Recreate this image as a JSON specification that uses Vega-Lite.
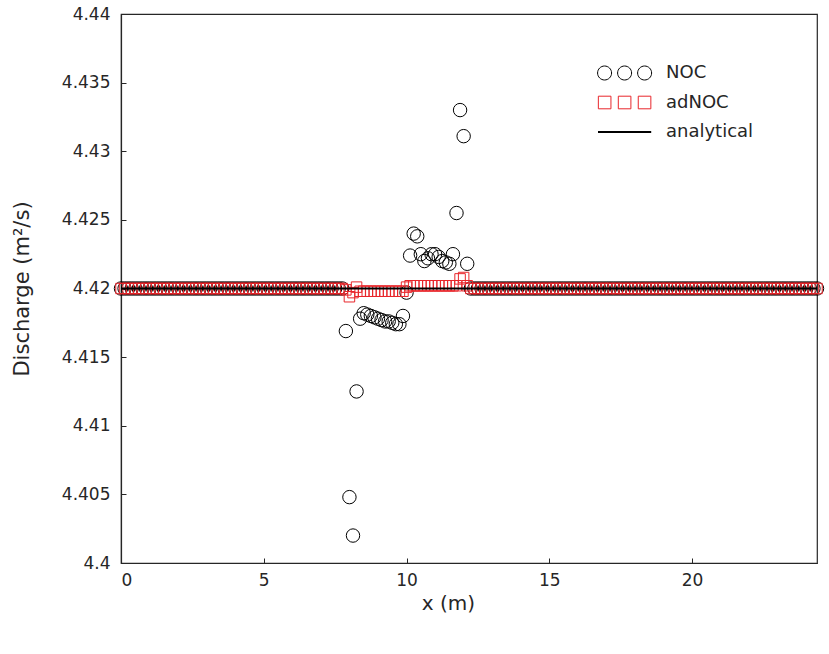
{
  "$schema": "https://vega.github.io/schema/vega-lite/v6.json",
  "width": 696,
  "height": 549,
  "autosize": "none",
  "padding": {"left": 121, "top": 14, "right": 12, "bottom": 91},
  "background": "white",
  "config": {
    "view": {"stroke": "#262626", "strokeWidth": 1.2},
    "font": "DejaVu Sans",
    "axis": {"grid": false, "domainColor": "#262626", "domainWidth": 1.2, "tickColor": "#262626", "tickWidth": 1, "tickSize": -5, "labelColor": "#262626", "labelFontSize": 17, "titleColor": "#262626", "titleFontSize": 20, "titleFontWeight": "normal"},
    "legend": {"title": null, "orient": "none", "padding": 0, "symbolSize": 196, "labelFontSize": 18, "labelColor": "#262626", "labelOffset": 31, "symbolStrokeWidth": 1, "symbolOpacity": 1}
  },
  "resolve": {"scale": {"color": "independent"}, "legend": {"color": "independent"}},
  "datasets": {
    "sol": [
      {"x":0,"n":4.42,"a":4.42},{"x":0.125,"n":4.42,"a":4.42},{"x":0.25,"n":4.42,"a":4.42},{"x":0.375,"n":4.42,"a":4.42},{"x":0.5,"n":4.42,"a":4.42},{"x":0.625,"n":4.42,"a":4.42},{"x":0.75,"n":4.42,"a":4.42},{"x":0.875,"n":4.42,"a":4.42},
      {"x":1,"n":4.42,"a":4.42},{"x":1.125,"n":4.42,"a":4.42},{"x":1.25,"n":4.42,"a":4.42},{"x":1.375,"n":4.42,"a":4.42},{"x":1.5,"n":4.42,"a":4.42},{"x":1.625,"n":4.42,"a":4.42},{"x":1.75,"n":4.42,"a":4.42},{"x":1.875,"n":4.42,"a":4.42},
      {"x":2,"n":4.42,"a":4.42},{"x":2.125,"n":4.42,"a":4.42},{"x":2.25,"n":4.42,"a":4.42},{"x":2.375,"n":4.42,"a":4.42},{"x":2.5,"n":4.42,"a":4.42},{"x":2.625,"n":4.42,"a":4.42},{"x":2.75,"n":4.42,"a":4.42},{"x":2.875,"n":4.42,"a":4.42},
      {"x":3,"n":4.42,"a":4.42},{"x":3.125,"n":4.42,"a":4.42},{"x":3.25,"n":4.42,"a":4.42},{"x":3.375,"n":4.42,"a":4.42},{"x":3.5,"n":4.42,"a":4.42},{"x":3.625,"n":4.42,"a":4.42},{"x":3.75,"n":4.42,"a":4.42},{"x":3.875,"n":4.42,"a":4.42},
      {"x":4,"n":4.42,"a":4.42},{"x":4.125,"n":4.42,"a":4.42},{"x":4.25,"n":4.42,"a":4.42},{"x":4.375,"n":4.42,"a":4.42},{"x":4.5,"n":4.42,"a":4.42},{"x":4.625,"n":4.42,"a":4.42},{"x":4.75,"n":4.42,"a":4.42},{"x":4.875,"n":4.42,"a":4.42},
      {"x":5,"n":4.42,"a":4.42},{"x":5.125,"n":4.42,"a":4.42},{"x":5.25,"n":4.42,"a":4.42},{"x":5.375,"n":4.42,"a":4.42},{"x":5.5,"n":4.42,"a":4.42},{"x":5.625,"n":4.42,"a":4.42},{"x":5.75,"n":4.42,"a":4.42},{"x":5.875,"n":4.42,"a":4.42},
      {"x":6,"n":4.42,"a":4.42},{"x":6.125,"n":4.42,"a":4.42},{"x":6.25,"n":4.42,"a":4.42},{"x":6.375,"n":4.42,"a":4.42},{"x":6.5,"n":4.42,"a":4.42},{"x":6.625,"n":4.42,"a":4.42},{"x":6.75,"n":4.42,"a":4.42},{"x":6.875,"n":4.42,"a":4.42},
      {"x":7,"n":4.42,"a":4.42},{"x":7.125,"n":4.42,"a":4.42},{"x":7.25,"n":4.42,"a":4.42},{"x":7.375,"n":4.42,"a":4.42},{"x":7.5,"n":4.42,"a":4.42},{"x":7.625,"n":4.42,"a":4.42},{"x":7.75,"n":4.42,"a":4.42},{"x":7.875,"n":4.4169,"a":4.4199},
      {"x":8,"n":4.4048,"a":4.4194},{"x":8.125,"n":4.402,"a":4.4197},{"x":8.25,"n":4.4125,"a":4.4201},{"x":8.375,"n":4.4178,"a":4.4198},{"x":8.5,"n":4.4182,"a":4.4198},{"x":8.625,"n":4.4181,"a":4.4198},{"x":8.75,"n":4.418,"a":4.4198},{"x":8.875,"n":4.4179,"a":4.4198},
      {"x":9,"n":4.4178,"a":4.4198},{"x":9.125,"n":4.4177,"a":4.4198},{"x":9.25,"n":4.4176,"a":4.4198},{"x":9.375,"n":4.4176,"a":4.4198},{"x":9.5,"n":4.4175,"a":4.4198},{"x":9.625,"n":4.4174,"a":4.4198},{"x":9.75,"n":4.4174,"a":4.4198},{"x":9.875,"n":4.418,"a":4.4198},
      {"x":10,"n":4.4197,"a":4.4201},{"x":10.125,"n":4.4224,"a":4.4202},{"x":10.25,"n":4.424,"a":4.4202},{"x":10.375,"n":4.4238,"a":4.4202},{"x":10.5,"n":4.4225,"a":4.4202},{"x":10.625,"n":4.422,"a":4.4202},{"x":10.75,"n":4.4222,"a":4.4202},{"x":10.875,"n":4.4225,"a":4.4202},
      {"x":11,"n":4.4225,"a":4.4202},{"x":11.125,"n":4.4223,"a":4.4202},{"x":11.25,"n":4.422,"a":4.4202},{"x":11.375,"n":4.4219,"a":4.4202},{"x":11.5,"n":4.4218,"a":4.4202},{"x":11.625,"n":4.4225,"a":4.4202},{"x":11.75,"n":4.4255,"a":4.4202},{"x":11.875,"n":4.433,"a":4.4207},
      {"x":12,"n":4.4311,"a":4.4208},{"x":12.125,"n":4.4218,"a":4.4202},{"x":12.25,"n":4.42,"a":4.42},{"x":12.375,"n":4.42,"a":4.42},{"x":12.5,"n":4.42,"a":4.42},{"x":12.625,"n":4.42,"a":4.42},{"x":12.75,"n":4.42,"a":4.42},{"x":12.875,"n":4.42,"a":4.42},
      {"x":13,"n":4.42,"a":4.42},{"x":13.125,"n":4.42,"a":4.42},{"x":13.25,"n":4.42,"a":4.42},{"x":13.375,"n":4.42,"a":4.42},{"x":13.5,"n":4.42,"a":4.42},{"x":13.625,"n":4.42,"a":4.42},{"x":13.75,"n":4.42,"a":4.42},{"x":13.875,"n":4.42,"a":4.42},
      {"x":14,"n":4.42,"a":4.42},{"x":14.125,"n":4.42,"a":4.42},{"x":14.25,"n":4.42,"a":4.42},{"x":14.375,"n":4.42,"a":4.42},{"x":14.5,"n":4.42,"a":4.42},{"x":14.625,"n":4.42,"a":4.42},{"x":14.75,"n":4.42,"a":4.42},{"x":14.875,"n":4.42,"a":4.42},
      {"x":15,"n":4.42,"a":4.42},{"x":15.125,"n":4.42,"a":4.42},{"x":15.25,"n":4.42,"a":4.42},{"x":15.375,"n":4.42,"a":4.42},{"x":15.5,"n":4.42,"a":4.42},{"x":15.625,"n":4.42,"a":4.42},{"x":15.75,"n":4.42,"a":4.42},{"x":15.875,"n":4.42,"a":4.42},
      {"x":16,"n":4.42,"a":4.42},{"x":16.125,"n":4.42,"a":4.42},{"x":16.25,"n":4.42,"a":4.42},{"x":16.375,"n":4.42,"a":4.42},{"x":16.5,"n":4.42,"a":4.42},{"x":16.625,"n":4.42,"a":4.42},{"x":16.75,"n":4.42,"a":4.42},{"x":16.875,"n":4.42,"a":4.42},
      {"x":17,"n":4.42,"a":4.42},{"x":17.125,"n":4.42,"a":4.42},{"x":17.25,"n":4.42,"a":4.42},{"x":17.375,"n":4.42,"a":4.42},{"x":17.5,"n":4.42,"a":4.42},{"x":17.625,"n":4.42,"a":4.42},{"x":17.75,"n":4.42,"a":4.42},{"x":17.875,"n":4.42,"a":4.42},
      {"x":18,"n":4.42,"a":4.42},{"x":18.125,"n":4.42,"a":4.42},{"x":18.25,"n":4.42,"a":4.42},{"x":18.375,"n":4.42,"a":4.42},{"x":18.5,"n":4.42,"a":4.42},{"x":18.625,"n":4.42,"a":4.42},{"x":18.75,"n":4.42,"a":4.42},{"x":18.875,"n":4.42,"a":4.42},
      {"x":19,"n":4.42,"a":4.42},{"x":19.125,"n":4.42,"a":4.42},{"x":19.25,"n":4.42,"a":4.42},{"x":19.375,"n":4.42,"a":4.42},{"x":19.5,"n":4.42,"a":4.42},{"x":19.625,"n":4.42,"a":4.42},{"x":19.75,"n":4.42,"a":4.42},{"x":19.875,"n":4.42,"a":4.42},
      {"x":20,"n":4.42,"a":4.42},{"x":20.125,"n":4.42,"a":4.42},{"x":20.25,"n":4.42,"a":4.42},{"x":20.375,"n":4.42,"a":4.42},{"x":20.5,"n":4.42,"a":4.42},{"x":20.625,"n":4.42,"a":4.42},{"x":20.75,"n":4.42,"a":4.42},{"x":20.875,"n":4.42,"a":4.42},
      {"x":21,"n":4.42,"a":4.42},{"x":21.125,"n":4.42,"a":4.42},{"x":21.25,"n":4.42,"a":4.42},{"x":21.375,"n":4.42,"a":4.42},{"x":21.5,"n":4.42,"a":4.42},{"x":21.625,"n":4.42,"a":4.42},{"x":21.75,"n":4.42,"a":4.42},{"x":21.875,"n":4.42,"a":4.42},
      {"x":22,"n":4.42,"a":4.42},{"x":22.125,"n":4.42,"a":4.42},{"x":22.25,"n":4.42,"a":4.42},{"x":22.375,"n":4.42,"a":4.42},{"x":22.5,"n":4.42,"a":4.42},{"x":22.625,"n":4.42,"a":4.42},{"x":22.75,"n":4.42,"a":4.42},{"x":22.875,"n":4.42,"a":4.42},
      {"x":23,"n":4.42,"a":4.42},{"x":23.125,"n":4.42,"a":4.42},{"x":23.25,"n":4.42,"a":4.42},{"x":23.375,"n":4.42,"a":4.42},{"x":23.5,"n":4.42,"a":4.42},{"x":23.625,"n":4.42,"a":4.42},{"x":23.75,"n":4.42,"a":4.42},{"x":23.875,"n":4.42,"a":4.42},
      {"x":24,"n":4.42,"a":4.42},{"x":24.125,"n":4.42,"a":4.42},{"x":24.25,"n":4.42,"a":4.42},{"x":24.375,"n":4.42,"a":4.42}
    ],
    "exact": [
      {"x":0,"q":4.42},{"x":24.375,"q":4.42}
    ]
  },
  "layer": [
    {
      "data": {"name": "sol"},
      "mark": {"type": "point", "shape": "circle", "filled": false, "size": 180, "strokeWidth": 1, "opacity": 1},
      "encoding": {
        "x": {"field": "x", "type": "quantitative", "scale": {"domain": [0, 24.375], "nice": false, "zero": false},
              "axis": {"values": [0, 5, 10, 15, 20], "title": "x (m)", "labelPadding": 14, "titlePadding": 5, "titleX": 327}},
        "y": {"field": "n", "type": "quantitative", "scale": {"domain": [4.4, 4.44], "nice": false, "zero": false},
              "axis": {"values": [4.4, 4.405, 4.41, 4.415, 4.42, 4.425, 4.43, 4.435, 4.44], "format": "~g", "title": "Discharge (m²/s)", "titleFontSize": 21, "labelPadding": 16, "titlePadding": 29}},
        "color": {
          "datum": "NOC",
          "scale": {"domain": ["NOC"], "range": ["#000000"]},
          "legend": {
            "legendX": 496,
            "legendY": 50,
            "symbolType": "M-4.06,0a1,1 0 1,0 2,0a1,1 0 1,0 -2,0M-1.2,0a1,1 0 1,0 2,0a1,1 0 1,0 -2,0M1.66,0a1,1 0 1,0 2,0a1,1 0 1,0 -2,0",
            "symbolFillColor": "transparent",
            "symbolStrokeColor": "#000000"
          }
        }
      }
    },
    {
      "data": {"name": "sol"},
      "mark": {"type": "point", "shape": "square", "filled": false, "size": 110, "strokeWidth": 1, "opacity": 1},
      "encoding": {
        "x": {"field": "x", "type": "quantitative"},
        "y": {"field": "a", "type": "quantitative"},
        "color": {
          "datum": "adNOC",
          "scale": {"domain": ["adNOC"], "range": ["#e8262b"]},
          "legend": {
            "legendX": 496,
            "legendY": 79.5,
            "symbolType": "M-3.95,-0.9h1.8v1.8h-1.8zM-1.1,-0.9h1.8v1.8h-1.8zM1.75,-0.9h1.8v1.8h-1.8z",
            "symbolFillColor": "transparent",
            "symbolStrokeColor": "#e8262b"
          }
        }
      }
    },
    {
      "data": {"name": "exact"},
      "mark": {"type": "line", "strokeWidth": 2},
      "encoding": {
        "x": {"field": "x", "type": "quantitative"},
        "y": {"field": "q", "type": "quantitative"},
        "color": {
          "datum": "analytical",
          "scale": {"domain": ["analytical"], "range": ["#000000"]},
          "legend": {
            "legendX": 496,
            "legendY": 109,
            "symbolType": "M-4.0,0H3.6",
            "symbolStrokeWidth": 2,
            "symbolStrokeColor": "#000000"
          }
        }
      }
    }
  ]
}
